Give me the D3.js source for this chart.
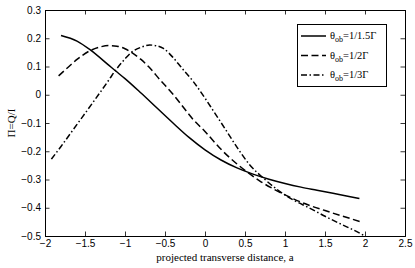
<!DOCTYPE html>
<html>
<head>
<meta charset="utf-8">
<script src="https://cdn.jsdelivr.net/npm/d3@7"></script>
<style>
  body { margin: 0; background: #fff; }
  svg { display: block; }
</style>
</head>
<body>
<div id="chart"></div>
<script>
// values: [a, Pi]
var seriesNames = ["1/1.5\u0393", "1/2\u0393", "1/3\u0393"]

var solid = [
  [-1.8, 0.210], [-1.6, 0.190], [-1.43, 0.158], [-1.2, 0.104], [-1.12, 0.085],
  [-1.0, 0.057], [-0.8, 0.006], [-0.6, -0.047], [-0.4, -0.100], [-0.2, -0.151],
  [0, -0.195], [0.2, -0.231], [0.4, -0.259], [0.6, -0.281], [0.8, -0.299],
  [1.0, -0.314], [1.2, -0.327], [1.4, -0.338], [1.6, -0.349], [1.8, -0.360], [1.93, -0.367]
]

var dashed = [
  [-1.83, 0.067], [-1.7, 0.100], [-1.6, 0.125], [-1.43, 0.157], [-1.3, 0.170],
  [-1.2, 0.174], [-1.1, 0.172], [-1.0, 0.163], [-0.92, 0.150], [-0.8, 0.125],
  [-0.7, 0.098], [-0.56, 0.052], [-0.4, 0.002], [-0.31, -0.030], [-0.15, -0.087],
  [0, -0.130], [0.1, -0.162], [0.21, -0.196], [0.4, -0.245], [0.52, -0.272],
  [0.7, -0.308], [0.9, -0.340], [1.1, -0.368], [1.3, -0.391], [1.5, -0.410],
  [1.7, -0.428], [1.94, -0.449]
]

var dashdot = [
  [-1.92, -0.228], [-1.8, -0.183], [-1.6, -0.105], [-1.4, -0.027], [-1.2, 0.053],
  [-1.125, 0.084], [-1.0, 0.127], [-0.92, 0.150], [-0.8, 0.168], [-0.69, 0.176],
  [-0.6, 0.173], [-0.52, 0.164], [-0.4, 0.132], [-0.3, 0.098], [-0.15, 0.048],
  [0, -0.012], [0.1, -0.055], [0.25, -0.120], [0.41, -0.190], [0.55, -0.245],
  [0.75, -0.300], [0.9, -0.335], [1.1, -0.372], [1.3, -0.400], [1.5, -0.430],
  [1.7, -0.458], [1.85, -0.478], [2.0, -0.500]
]

var xTicks = [-2, -1.5, -1, -0.5, 0, 0.5, 1, 1.5, 2, 2.5]
var yTicks = [-0.5, -0.4, -0.3, -0.2, -0.1, 0, 0.1, 0.2, 0.3]

var width = 415, height = 268
var margin = {top: 10, right: 10, bottom: 32, left: 45}

var svg = d3.select("#chart").append("svg")
  .attr("width", width)
  .attr("height", height)

var x = d3.scaleLinear().domain([-2, 2.5]).range([margin.left, width - margin.right])
var y = d3.scaleLinear().domain([-0.5, 0.3]).range([height - margin.bottom, margin.top])

function fmt(d) {
  return String(d).replace("-", "\u2212")
}

var tickLen = 4.5
var axisFont = "Liberation Sans, Arial, sans-serif"
var serif = "Liberation Serif, Times New Roman, serif"

// axes, ticks pointing inward on all four sides
svg.append("g")
  .attr("transform", "translate(0," + y.range()[0] + ")")
  .call(d3.axisBottom(x).tickValues(xTicks).tickSize(-tickLen).tickPadding(4).tickFormat(fmt))
svg.append("g")
  .attr("transform", "translate(0," + y.range()[1] + ")")
  .call(d3.axisTop(x).tickValues(xTicks).tickSize(-tickLen).tickFormat(""))
svg.append("g")
  .attr("transform", "translate(" + x.range()[0] + ",0)")
  .call(d3.axisLeft(y).tickValues(yTicks).tickSize(-tickLen).tickPadding(4).tickFormat(fmt))
svg.append("g")
  .attr("transform", "translate(" + x.range()[1] + ",0)")
  .call(d3.axisRight(y).tickValues(yTicks).tickSize(-tickLen).tickFormat(""))

svg.selectAll(".domain").attr("stroke", "#000").attr("stroke-width", 1)
svg.selectAll(".tick line").attr("stroke", "#000").attr("stroke-width", 0.8)
svg.selectAll(".tick text")
  .attr("fill", "#000")
  .style("font-family", axisFont)
  .style("font-size", "10px")

var line = d3.line()
  .x(function(d) { return x(d[0]) })
  .y(function(d) { return y(d[1]) })
  .curve(d3.curveMonotoneX)

var styles = ["none", "7,3.5", "6,2.5,1.5,2.5"]
var allSeries = [solid, dashed, dashdot]

svg.append("g")
  .selectAll("path")
  .data(allSeries)
  .enter()
  .append("path")
  .attr("d", line)
  .attr("fill", "none")
  .attr("stroke", "#000")
  .attr("stroke-width", 1.5)
  .attr("stroke-dasharray", function(d, i) { return styles[i] })

// legend
svg.append("rect")
  .attr("x", 297.5).attr("y", 24.5)
  .attr("width", 89).attr("height", 62)
  .attr("fill", "#fff")
  .attr("stroke", "#000")
  .attr("stroke-width", 1)

var item = svg.selectAll(".legend-item")
  .data(seriesNames)
  .enter()
  .append("g")
  .attr("class", "legend-item")
  .attr("transform", function(d, i) { return "translate(301," + (36 + i * 19.5) + ")" })

item.append("line")
  .attr("x1", 0).attr("x2", 25)
  .attr("stroke", "#000")
  .attr("stroke-width", 1.5)
  .attr("stroke-dasharray", function(d, i) { return styles[i] })

var lt = item.append("text")
  .attr("x", 29).attr("y", 3)
  .style("font-family", serif)
  .style("font-size", "10.5px")
lt.append("tspan").text("\u03b8")
lt.append("tspan").attr("dy", 3).style("font-size", "8px").text("ob")
lt.append("tspan").attr("dy", -3).text(function(d) { return "=" + d })

// axis labels
svg.append("text")
  .attr("x", (x.range()[0] + x.range()[1]) / 2)
  .attr("y", 261)
  .attr("text-anchor", "middle")
  .style("font-family", serif)
  .style("font-size", "11px")
  .text("projected transverse distance, a")

svg.append("text")
  .attr("transform", "translate(15," + ((y.range()[0] + y.range()[1]) / 2) + ") rotate(-90)")
  .attr("text-anchor", "middle")
  .style("font-family", serif)
  .style("font-size", "11px")
  .text("\u03a0=Q/I")
</script>
</body>
</html>
